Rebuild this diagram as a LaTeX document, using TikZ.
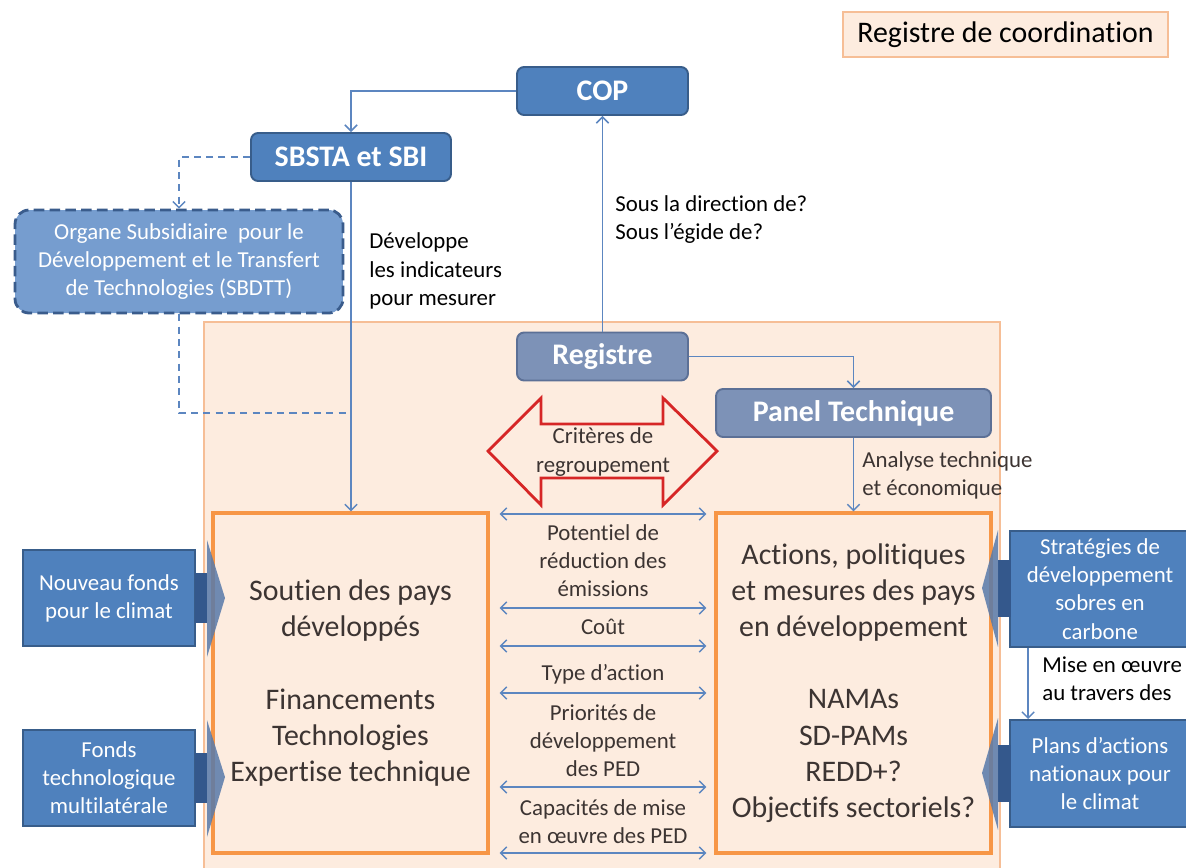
\documentclass[tikz,border=0pt]{standalone}
\usepackage{fontspec}
\setmainfont{Carlito}[RawFeature={-liga;-clig;-calt;-dlig}]
\usetikzlibrary{arrows.meta, calc}

\definecolor{boxblue}{RGB}{79,129,189}
\definecolor{boxblueline}{RGB}{56,93,138}
\definecolor{lightblue}{RGB}{118,157,207}
\definecolor{dashline}{RGB}{58,92,140}
\definecolor{greyblue}{RGB}{125,146,183}
\definecolor{greyblueline}{RGB}{92,112,150}
\definecolor{peach}{RGB}{253,236,223}
\definecolor{peachline}{RGB}{246,190,150}
\definecolor{orangeline}{RGB}{247,150,70}
\definecolor{linkblue}{RGB}{92,134,192}
\definecolor{redline}{RGB}{214,38,38}
\definecolor{stemblue}{RGB}{52,88,140}
\definecolor{headblue}{RGB}{88,122,170}
\definecolor{txt}{RGB}{60,52,50}

\begin{document}
\begin{tikzpicture}[x=0.02cm, y=-0.02cm,
    hdbox/.style={rounded corners=4pt, line width=1.1pt, text=white,
      font=\fontsize{17}{20}\selectfont\bfseries, minimum height=0.96cm},
    bluebox/.style={hdbox, fill=boxblue, draw=boxblueline},
    greybox/.style={hdbox, fill=greyblue, draw=greyblueline},
    sidebox/.style={fill=boxblue, draw=boxblueline, line width=1.1pt, text=white,
      font=\fontsize{13}{16}\selectfont, align=center, minimum width=3.44cm},
    pedbox/.style={draw=orangeline, line width=1.8pt, fill=peach,
      minimum width=5.5cm, minimum height=6.8cm},
    link/.style={draw=linkblue, line width=0.85pt, -{Straight Barb[length=3.5pt,width=7pt]}},
    dashlink/.style={link, dash pattern=on 4pt off 3pt},
    pairlink/.style={draw=linkblue, line width=0.85pt,
      {Straight Barb[length=3.5pt,width=7pt]}-{Straight Barb[length=3.5pt,width=7pt]},
      shorten <=0.2cm, shorten >=0.16cm},
    note/.style={font=\fontsize{13}{16}\selectfont, align=left, anchor=west, inner sep=0pt},
    crit/.style={font=\fontsize{13}{16}\selectfont, align=center, text=txt, inner sep=0pt},
    big/.style={font=\fontsize{17}{20.6}\selectfont, align=center, text=txt, inner sep=0pt},
    stem/.style={fill=stemblue},
    head/.style={fill=headblue, opacity=0.85}]

    \useasboundingbox (0,0) rectangle (1186,867);

    % Registre region
    \draw[peachline, fill=peach, line width=1pt] (204,322) rectangle (1000,880);

    % legend
    \node[draw=peachline, fill=peach, line width=0.8pt, minimum width=6.5cm, minimum height=0.9cm,
      font=\fontsize{17}{20}\selectfont] (legend) at (1005.5,34.5) {Registre de coordination};

    % top boxes
    \node[bluebox, minimum width=3.42cm] (cop) at (602.5,91) {COP};
    \node[bluebox, minimum width=4cm] (sbsta) at (351,157) {SBSTA et SBI};
    \node[rounded corners=8pt, fill=lightblue, draw=dashline, line width=1.6pt,
      dash pattern=on 6pt off 3pt, text=white, font=\fontsize{13}{16}\selectfont,
      align=center, minimum width=6.56cm, minimum height=2.06cm] (sbdtt) at (179,261.5)
      {Organe Subsidiaire\ \ pour le\\Développement et le Transfert\\de Technologies (SBDTT)};

    % inside the region
    \node[greybox, minimum width=3.42cm] (reg) at (602.5,356.5) {Registre};
    \node[greybox, minimum width=5.5cm] (panel) at (853.5,413) {Panel Technique};

    \node[pedbox, big] (lbox) at (350.5,683)
      {Soutien des pays\\développés\\[20.6pt]Financements\\Technologies\\Expertise technique};
    \node[pedbox, big] (rbox) at (853.5,683)
      {Actions, politiques\\et mesures des pays\\en développement\\[20.6pt]NAMAs\\SD-PAMs\\REDD+?\\Objectifs sectoriels?};

    % grouping arrow
    \draw[redline, line width=1.6pt, line join=miter] (488,451) -- (541,398) -- (541,424) -- (663,424)
      -- (663,398) -- (717,451) -- (663,505) -- (663,478) -- (541,478) -- (541,505) -- cycle;
    \node[crit] (crit) at (603,452) {Critères de\\regroupement};

    % criteria between the two boxes
    \node[crit] (pot) at (603,561) {Potentiel de\\réduction des\\émissions};
    \node[crit] (cout) at (603,627) {Coût};
    \node[crit] (type) at (603,674) {Type d’action};
    \node[crit] (prio) at (603,741) {Priorités de\\développement\\des PED};
    \node[crit] (capa) at (603,822) {Capacités de mise\\en œuvre des PED};
    \foreach \y in {514,608,646,693,787,853}
      \draw[pairlink] (lbox.east |- 0,\y) -- (rbox.west |- 0,\y);

    % funds on the left
    \node[sidebox, minimum height=1.92cm] (nfc) at (109,598) {Nouveau fonds\\pour le climat};
    \node[sidebox, minimum height=1.92cm] (ftm) at (109,778) {Fonds\\technologique\\multilatérale};
    \fill[stem] (195,573) rectangle (207,623);
    \fill[head] (207,540) -- (225,598) -- (207,657) -- cycle;
    \fill[stem] (195,753) rectangle (207,803);
    \fill[head] (207,720) -- (225,777) -- (207,837) -- cycle;

    % national plans on the right
    \node[sidebox, minimum width=3.6cm, minimum height=2.32cm] (strat) at (1100,589)
      {Stratégies de\\développement\\sobres en\\carbone};
    \node[sidebox, minimum width=3.6cm, minimum height=2.14cm] (plans) at (1100,773.5)
      {Plans d’actions\\nationaux pour\\le climat};
    \fill[stem] (998,560) rectangle (1011,617);
    \fill[head] (998,530) -- (982,588) -- (998,647) -- cycle;
    \fill[stem] (998,745) rectangle (1011,802);
    \fill[head] (998,718) -- (982,773) -- (998,830) -- cycle;

    % connectors
    \draw[link] (cop.west) -| (sbsta.north);
    \draw[link] (sbsta.south) -- (sbsta.south |- lbox.north);
    \draw[dashlink] (sbsta.west) -| (sbdtt.north);
    \coordinate (join) at (sbsta.south |- 0,413);
    \draw[dashlink, -] (sbdtt.south) |- (join);
    \draw[link] (reg.north) -- (cop.south);
    \draw[link] (reg.east) -| (panel.north);
    \draw[link] (panel.south) -- (rbox.north);
    \draw[link] ($(strat.south west)+(19,0)$) coordinate (mo) -- (mo |- plans.north);

    % connector labels
    \node[note] (dev) at (369,271) {Développe\\les indicateurs\\pour mesurer};
    \node[note] (dir) at (615,219.5) {Sous la direction de?\\Sous l’égide de?};
    \node[note, text=txt] (ana) at (862,475.5) {Analyse technique\\et économique};
    \node[note] (mise) at (1042,679) {Mise en œuvre\\au travers des};

\end{tikzpicture}
\end{document}
